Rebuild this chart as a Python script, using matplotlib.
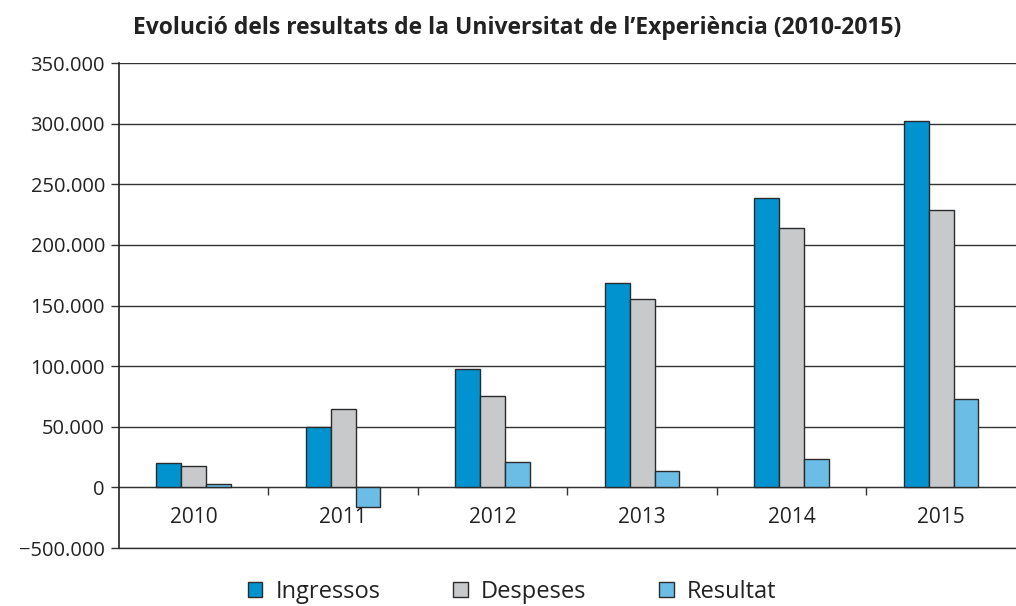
import numpy as np
import matplotlib
matplotlib.use('Agg')
import matplotlib.pyplot as plt
from matplotlib.patches import Patch

plt.rcParams['font.family'] = ['Open Sans', 'DejaVu Sans']

years = ['2010', '2011', '2012', '2013', '2014', '2015']
ingressos = [20000, 50000, 98000, 168700, 238500, 302400]
despeses = [17300, 65000, 75500, 155000, 213700, 229000]
resultat = [2500, -16500, 20600, 13200, 23700, 73000]

yticks = [-50000, 0, 50000, 100000, 150000, 200000, 250000, 300000, 350000]
ytick_labels = ['\u2212500.000', '0', '50.000', '100.000', '150.000',
                '200.000', '250.000', '300.000', '350.000']

c_ing = '#0093d0'
c_des = '#c8c9cb'
c_res = '#6bbde6'
edge = '#2b2b2b'

fig = plt.figure(figsize=(10.16, 6.06), dpi=100)
ax = fig.add_axes([0.117, 0.0957, 0.883, 0.8003])

x = np.arange(len(years))
w = 0.166
ax.bar(x - w, ingressos, w, color=c_ing, edgecolor=edge, linewidth=1, zorder=3)
ax.bar(x, despeses, w, color=c_des, edgecolor=edge, linewidth=1, zorder=3)
ax.bar(x + w, resultat, w, color=c_res, edgecolor=edge, linewidth=1, zorder=3)

ax.set_xlim(-0.5, len(years) - 0.5)
ax.set_ylim(-50000, 350000)
ax.set_yticks(yticks)
ax.set_yticklabels(ytick_labels, fontsize=14.5, color='#222222')
ax.yaxis.grid(True, color='#333333', linewidth=1, zorder=1)
ax.tick_params(axis='y', length=6, width=1, color='#333333', pad=4)

ax.set_xticks([])
for s in ['top', 'right']:
    ax.spines[s].set_visible(False)
ax.spines['left'].set_color('#222222')
ax.spines['left'].set_linewidth(1.2)
ax.spines['bottom'].set_color('#333333')
ax.spines['bottom'].set_linewidth(1)

# zero axis with separators between years
sec = ax.secondary_xaxis(0.125)
sec.set_xticks(x[:-1] + 0.5)
sec.set_xticklabels([])
sec.tick_params(length=6, width=1, color='#333333', direction='out')
sec.spines['bottom'].set_color('#333333')

for i, yr in enumerate(years):
    ax.text(i, -24500, yr, ha='center', va='center', fontsize=15, color='#222222')

fig.suptitle("Evolució dels resultats de la Universitat de l\u2019Experiència (2010-2015)",
             x=0.509, y=0.953, va='center', fontsize=16.5, fontweight='bold', color='#222222')

handles = [Patch(facecolor=c, edgecolor=edge, linewidth=1) for c in (c_ing, c_des, c_res)]
fig.legend(handles, ['Ingressos', 'Despeses', 'Resultat'], loc='center',
           bbox_to_anchor=(0.504, 0.023), ncol=3, frameon=False, fontsize=17,
           handlelength=0.6, handleheight=0.6, columnspacing=3.1, handletextpad=0.55,
           borderpad=0, labelcolor='#222222')

fig.savefig('out.png', dpi=100)
